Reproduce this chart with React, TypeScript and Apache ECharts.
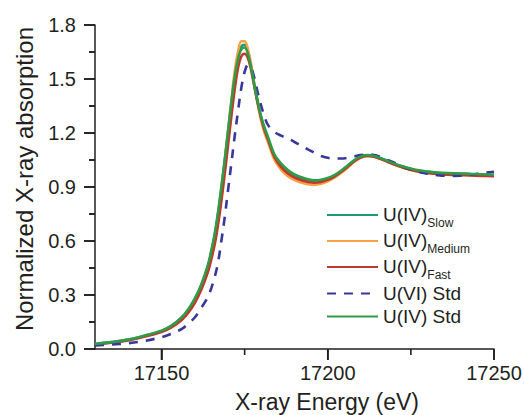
import React, { useEffect, useRef } from "react";
import * as echarts from "echarts";

const energy = [
  17130, 17135, 17140, 17145, 17150, 17153, 17156, 17158, 17160, 17162, 17164, 17165, 17166, 17167, 17168,
  17169, 17170, 17171, 17172, 17173, 17174, 17175, 17176, 17177, 17178, 17179, 17180, 17181, 17182, 17184,
  17186, 17188, 17190, 17192, 17194, 17196, 17198, 17200, 17202, 17204, 17206, 17208, 17210, 17212, 17214,
  17216, 17218, 17220, 17223, 17226, 17230, 17233, 17236, 17240, 17243, 17246, 17250,
];

const u4Slow = [
  0.028, 0.038, 0.052, 0.074, 0.1, 0.128, 0.172, 0.215, 0.275, 0.355, 0.46, 0.54, 0.63, 0.75, 0.89,
  1.04, 1.2, 1.36, 1.51, 1.62, 1.68, 1.69, 1.65, 1.565, 1.46, 1.365, 1.28, 1.22, 1.17, 1.07,
  1.02, 0.985, 0.96, 0.945, 0.935, 0.93, 0.933, 0.945, 0.962, 0.987, 1.017, 1.047, 1.068, 1.075, 1.07,
  1.058, 1.043, 1.028, 1.01, 0.995, 0.984, 0.978, 0.975, 0.973, 0.971, 0.969, 0.966,
];

const u4Medium = [
  0.026, 0.036, 0.05, 0.072, 0.098, 0.125, 0.168, 0.21, 0.27, 0.345, 0.45, 0.53, 0.62, 0.74, 0.88,
  1.04, 1.21, 1.38, 1.54, 1.65, 1.71, 1.71, 1.665, 1.575, 1.46, 1.355, 1.265, 1.2, 1.15, 1.05,
  0.995, 0.96, 0.938, 0.925, 0.915, 0.912, 0.918, 0.932, 0.952, 0.978, 1.008, 1.04, 1.063, 1.072, 1.068,
  1.055, 1.04, 1.025, 1.006, 0.99, 0.978, 0.972, 0.969, 0.967, 0.966, 0.965, 0.963,
];

const u4Fast = [
  0.026, 0.035, 0.048, 0.069, 0.094, 0.12, 0.16, 0.2, 0.255, 0.33, 0.43, 0.5, 0.58, 0.69, 0.82,
  0.97, 1.13, 1.29, 1.44, 1.56, 1.625, 1.64, 1.615, 1.545, 1.45, 1.36, 1.28, 1.215, 1.165, 1.065,
  1.01, 0.975, 0.952, 0.938, 0.928, 0.924, 0.928, 0.94, 0.958, 0.983, 1.012, 1.043, 1.065, 1.073, 1.068,
  1.055, 1.04, 1.025, 1.005, 0.99, 0.978, 0.972, 0.968, 0.966, 0.964, 0.962, 0.96,
];

const u6Std = [
  0.02, 0.025, 0.032, 0.045, 0.066, 0.085, 0.11, 0.14, 0.175, 0.23, 0.29, 0.34, 0.4, 0.48, 0.6,
  0.73, 0.88, 1.03, 1.18, 1.32, 1.45, 1.54, 1.578, 1.56, 1.5, 1.42, 1.35, 1.29, 1.245, 1.205,
  1.185, 1.17, 1.15, 1.13, 1.109, 1.09, 1.072, 1.062, 1.058, 1.058, 1.062, 1.07, 1.077, 1.08, 1.078,
  1.066, 1.05, 1.035, 1.01, 0.99, 0.974, 0.966, 0.962, 0.963, 0.968, 0.976, 0.985,
];

const u4Std = [
  0.028, 0.038, 0.052, 0.075, 0.102, 0.13, 0.175, 0.22, 0.28, 0.36, 0.47, 0.55, 0.64, 0.76, 0.9,
  1.05, 1.21, 1.37, 1.51, 1.61, 1.665, 1.675, 1.64, 1.56, 1.46, 1.37, 1.29, 1.23, 1.18, 1.08,
  1.03, 0.995, 0.97, 0.955, 0.943, 0.937, 0.94, 0.95, 0.966, 0.99, 1.02, 1.05, 1.07, 1.077, 1.072,
  1.06, 1.045, 1.03, 1.012, 0.997, 0.986, 0.98, 0.977, 0.975, 0.973, 0.971, 0.968,
];

const X_MIN = 17130;
const X_MAX = 17250;
const Y_MIN = 0;
const Y_MAX = 1.8;
const xMajorTicks = [17150, 17200, 17250];
const xMinorTicks = [17175, 17225];
const yMajorTicks = [0, 0.3, 0.6, 0.9, 1.2, 1.5, 1.8];
const yMinorTicks = [0.15, 0.45, 0.75, 1.05, 1.35, 1.65];

const seriesDefs = [
  { name: "U(IV) Slow", main: "U(IV)", sub: "Slow", values: u4Slow, color: "#1d9a78", dashed: false },
  { name: "U(IV) Medium", main: "U(IV)", sub: "Medium", values: u4Medium, color: "#f7a247", dashed: false },
  { name: "U(IV) Fast", main: "U(IV)", sub: "Fast", values: u4Fast, color: "#c0392b", dashed: false },
  { name: "U(VI) Std", main: "U(VI) Std", sub: "", values: u6Std, color: "#38379b", dashed: true },
  { name: "U(IV) Std", main: "U(IV) Std", sub: "", values: u4Std, color: "#2e9c48", dashed: false },
];

const FONT = "Liberation Sans, Arial, sans-serif";
const AXIS_COLOR = "#231f20";
const TICK_W = 1.6;
const MAJOR_LEN = 11;
const MINOR_LEN = 6;

export default function App() {
  const ref = useRef<HTMLDivElement>(null);
  useEffect(() => {
    if (!ref.current) return;
    const chart = echarts.init(ref.current, undefined, { renderer: "svg" });
    const subMap: Record<string, { main: string; sub: string }> = {};
    seriesDefs.forEach((s) => (subMap[s.name] = { main: s.main, sub: s.sub }));
    const tickLine = { color: AXIS_COLOR, width: TICK_W };
    chart.setOption({
      animation: false,
      backgroundColor: "#ffffff",
      textStyle: { fontFamily: FONT },
      grid: { left: 95, right: 30, top: 25, bottom: 66, containLabel: false, outerBoundsMode: "none" },
      legend: {
        orient: "vertical",
        left: 326,
        top: 205,
        padding: 0,
        itemWidth: 51,
        itemHeight: 14,
        itemGap: 2,
        data: seriesDefs.map((s) => s.name),
        itemStyle: { opacity: 0 },
        formatter: (name: string) => {
          const d = subMap[name];
          if (d.sub) return `{m|${d.main}}{s|${d.sub}}`;
          return `{n|${d.main}}`;
        },
        textStyle: {
          fontFamily: FONT,
          color: AXIS_COLOR,
          rich: {
            m: { fontSize: 19, lineHeight: 20, verticalAlign: "top", fontFamily: FONT, color: AXIS_COLOR },
            s: { fontSize: 12, lineHeight: 12, verticalAlign: "top", padding: [12, 0, 0, 0], fontFamily: FONT, color: AXIS_COLOR },
            n: { fontSize: 19, lineHeight: 20, padding: [1, 0, 1, 0], fontFamily: FONT, color: AXIS_COLOR },
          },
        },
      },
      xAxis: {
        type: "value",
        min: X_MIN,
        max: X_MAX,
        name: "X-ray Energy (eV)",
        nameLocation: "middle",
        nameGap: 41,
        nameTextStyle: { fontSize: 23, color: AXIS_COLOR, fontFamily: FONT, padding: [0, 0, 0, 65] },
        axisLine: { show: true, onZero: false, lineStyle: { color: AXIS_COLOR, width: 1.5 } },
        axisTick: { show: true, length: MAJOR_LEN, customValues: xMajorTicks, lineStyle: tickLine },
        axisLabel: {
          show: true,
          margin: 14,
          fontSize: 20,
          color: AXIS_COLOR,
          fontFamily: FONT,
          customValues: xMajorTicks,
          formatter: (v: number) => String(v),
        },
        splitLine: { show: false },
      },
      yAxis: {
        type: "value",
        min: Y_MIN,
        max: Y_MAX,
        interval: 0.3,
        name: "Normalized X-ray absorption",
        nameLocation: "middle",
        nameGap: 59,
        nameTextStyle: { fontSize: 24, color: AXIS_COLOR, fontFamily: FONT, padding: [0, 0, 0, 16] },
        axisLine: { show: true, onZero: false, lineStyle: { color: AXIS_COLOR, width: 1.5 } },
        axisTick: { show: true, length: MAJOR_LEN, lineStyle: tickLine },
        minorTick: { show: true, splitNumber: 2, length: MINOR_LEN, lineStyle: tickLine },
        axisLabel: { margin: 19, fontSize: 20, color: AXIS_COLOR, fontFamily: FONT, formatter: (v: number) => v.toFixed(1) },
        splitLine: { show: false },
      },
      series: seriesDefs.map((s) => ({
        name: s.name,
        type: "line",
        data: energy.map((e, i) => [e, s.values[i]]),
        symbol: "none",
        smooth: 0.35,
        lineStyle: { color: s.color, width: 2.6, type: s.dashed ? [9, 8] : "solid" },
        itemStyle: { color: s.color },
      })),
    });

    // Tick marks placed through the chart's own scales.
    const toPx = (x: number, y: number) => chart.convertToPixel({ gridIndex: 0 }, [x, y]) as number[];
    const elements: any[] = [];
    const addX = (v: number, len: number) => {
      const p = toPx(v, Y_MIN);
      elements.push({ type: "line", z: 100, silent: true, shape: { x1: p[0], y1: p[1], x2: p[0], y2: p[1] + len }, style: { stroke: AXIS_COLOR, lineWidth: TICK_W } });
    };
    const addY = (v: number, len: number) => {
      const p = toPx(X_MIN, v);
      elements.push({ type: "line", z: 100, silent: true, shape: { x1: p[0] - len, y1: p[1], x2: p[0], y2: p[1] }, style: { stroke: AXIS_COLOR, lineWidth: TICK_W } });
    };
    xMajorTicks.forEach((v) => addX(v, MAJOR_LEN));
    xMinorTicks.forEach((v) => addX(v, MINOR_LEN));
    yMajorTicks.forEach((v) => addY(v, MAJOR_LEN));
    yMinorTicks.forEach((v) => addY(v, MINOR_LEN));
    chart.setOption({ graphic: { elements } });

    return () => chart.dispose();
  }, []);
  return <div ref={ref} style={{ position: "fixed", left: 0, top: 0, width: 524, height: 415, background: "#fff" }} />;
}
